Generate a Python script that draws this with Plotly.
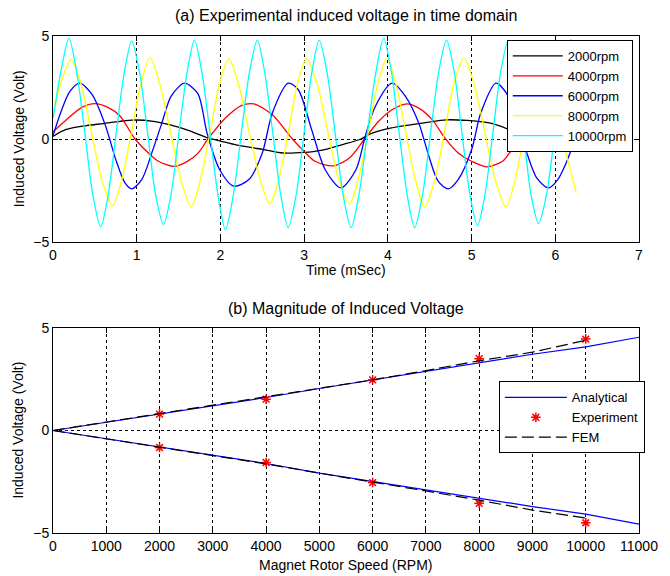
import plotly.graph_objects as go

# ---------------- (a) time-domain waveforms ----------------
t_2000 = [0.0, 0.15, 0.4, 0.6, 0.8, 0.95, 1.2, 1.4, 1.6, 1.85, 2.0, 2.2, 2.5, 2.75, 3.0, 3.2,
          3.45, 3.68, 3.77, 4.0, 4.2, 4.45, 4.7, 4.95, 5.15, 5.25, 5.45, 5.6, 5.8, 6.0, 6.2]
v_2000 = [0.12, 0.45, 0.65, 0.75, 0.86, 0.92, 0.86, 0.68, 0.44, 0.05, -0.1, -0.3, -0.5, -0.68,
          -0.65, -0.55, -0.28, 0.0, 0.21, 0.5, 0.65, 0.8, 0.93, 0.9, 0.82, 0.75, 0.45, 0.1, -0.2,
          -0.4, -0.5]

t_4000 = [0.0, 0.16, 0.35, 0.5, 0.65, 0.8, 0.98, 1.14, 1.26, 1.45, 1.6, 1.73, 1.86, 2.06, 2.25,
          2.4, 2.62, 2.86, 3.0, 3.13, 3.35, 3.54, 3.73, 3.89, 4.05, 4.23, 4.37, 4.53, 4.68, 4.84,
          5.0, 5.18, 5.37, 5.48, 5.6, 5.8, 6.0, 6.15, 6.25]
v_4000 = [0.35, 0.94, 1.55, 1.72, 1.55, 1.12, 0.0, -0.68, -1.08, -1.33, -1.1, -0.7, 0.05, 1.02,
          1.62, 1.7, 1.18, 0.0, -0.6, -1.08, -1.3, -0.92, 0.05, 0.86, 1.42, 1.71, 1.5, 0.94, 0.05,
          -0.68, -1.08, -1.35, -1.08, -0.52, 0.05, 0.9, 1.5, 1.7, 1.65]

t_6000 = [0.0, 0.09, 0.2, 0.32, 0.47, 0.63, 0.75, 0.86, 0.94, 1.06, 1.18, 1.3, 1.41, 1.57, 1.73,
          1.84, 1.99, 2.16, 2.34, 2.5, 2.62, 2.81, 2.93, 3.09, 3.25, 3.44, 3.62, 3.73, 3.85, 4.05,
          4.21, 4.37, 4.49, 4.6, 4.72, 4.84, 5.0, 5.11, 5.29, 5.42, 5.55, 5.64, 5.78, 5.92, 6.03,
          6.13, 6.2, 6.23]
v_6000 = [0.15, 1.26, 2.3, 2.71, 2.14, 0.61, -1.0, -2.13, -2.42, -1.97, -0.68, 0.77, 2.07, 2.71,
          2.2, 0.3, -1.48, -2.29, -1.97, -0.68, 1.26, 2.71, 2.39, 0.45, -1.48, -2.37, -1.48, 0.13,
          1.58, 2.71, 2.07, 0.77, -0.84, -2.05, -2.42, -1.97, -0.52, 1.26, 2.71, 2.2, 0.7, -0.43,
          -1.9, -2.37, -1.97, -1.16, -0.43, -0.2]

t_8000 = [0.0, 0.1, 0.217, 0.34, 0.46, 0.585, 0.71, 0.82, 0.935, 1.05, 1.16, 1.28, 1.405, 1.53,
          1.65, 1.76, 1.875, 1.99, 2.1, 2.22, 2.345, 2.47, 2.59, 2.7, 2.81, 2.92, 3.03, 3.16,
          3.285, 3.41, 3.54, 3.65, 3.765, 3.88, 3.99, 4.1, 4.215, 4.33, 4.44, 4.56, 4.675, 4.79,
          4.91, 5.035, 5.16, 5.285, 5.41, 5.52, 5.63, 5.74, 5.85, 5.97, 6.09, 6.18, 6.25]
v_8000 = [1.1, 2.8, 3.85, 2.6, 0.3, -2.0, -3.25, -2.0, 0.3, 2.7, 3.95, 2.6, 0.3, -2.0, -3.3,
          -2.0, 0.3, 2.7, 3.9, 2.6, 0.3, -1.9, -3.15, -1.9, 0.3, 2.7, 3.9, 2.6, 0.3, -1.9, -3.15,
          -1.9, 0.3, 2.7, 3.9, 2.6, 0.3, -2.0, -3.3, -2.0, 0.3, 2.7, 3.95, 2.6, 0.3, -2.0, -3.3,
          -2.0, 0.3, 2.7, 3.9, 2.6, 0.0, -1.5, -2.6]

t_10000 = [0.0, 0.1, 0.19, 0.285, 0.38, 0.475, 0.57, 0.66, 0.755, 0.85, 0.94, 1.035, 1.13, 1.225,
           1.32, 1.41, 1.505, 1.6, 1.69, 1.78, 1.875, 1.97, 2.06, 2.155, 2.25, 2.345, 2.44, 2.53,
           2.625, 2.72, 2.81, 2.905, 3.0, 3.09, 3.18, 3.275, 3.37, 3.465, 3.56, 3.655, 3.755,
           3.855, 3.95, 4.045, 4.135, 4.23, 4.32, 4.415, 4.51, 4.605, 4.7, 4.795, 4.885, 4.98,
           5.07, 5.16, 5.255, 5.345, 5.44, 5.53, 5.62, 5.71, 5.8, 5.895, 5.995, 6.09, 6.19]
v_10000 = [1.0, 3.4, 4.9, 3.2, 0.3, -2.7, -4.25, -2.7, 0.3, 3.2, 4.75, 3.2, 0.3, -2.7, -4.15,
           -2.7, 0.3, 3.2, 4.8, 3.2, 0.3, -2.7, -4.4, -2.7, 0.3, 3.2, 4.8, 3.2, 0.3, -2.7, -4.3,
           -2.7, 0.3, 3.2, 4.8, 3.2, 0.3, -2.7, -4.3, -2.7, 0.3, 3.2, 4.9, 3.2, 0.3, -2.7, -4.3,
           -2.7, 0.3, 3.2, 4.8, 3.2, 0.3, -2.7, -4.2, -2.7, 0.3, 3.2, 4.8, 3.2, 0.3, -2.7, -4.1,
           -2.7, 0.3, 3.2, 4.85]

wave_names = ["2000rpm", "4000rpm", "6000rpm", "8000rpm", "10000rpm"]
wave_colors = ["#000000", "#ff0000", "#0000ff", "#ffff00", "#00ffff"]

# ---------------- (b) magnitude vs speed ----------------
rpm_analytical = [0, 1000, 2000, 3000, 4000, 5000, 6000, 7000, 8000, 9000, 10000, 11000]
analytical_upper = [0.0, 0.4, 0.8, 1.2, 1.61, 2.05, 2.47, 2.9, 3.3, 3.72, 4.08, 4.55]
analytical_lower = [0.0, -0.4, -0.8, -1.2, -1.61, -2.08, -2.49, -2.9, -3.3, -3.71, -4.08, -4.57]

rpm_fem = [0, 1000, 2000, 3000, 4000, 5000, 6000, 7000, 8000, 9000, 10000]
fem_upper = [0.0, 0.41, 0.82, 1.22, 1.62, 2.05, 2.47, 2.92, 3.4, 3.82, 4.4]
fem_lower = [0.0, -0.41, -0.82, -1.22, -1.63, -2.08, -2.5, -2.95, -3.4, -3.88, -4.27]

rpm_exp = [2000, 4000, 6000, 8000, 10000]
exp_upper = [0.8, 1.53, 2.47, 3.5, 4.46]
exp_lower = [-0.83, -1.56, -2.54, -3.55, -4.5]

time_ticks = [0, 1, 2, 3, 4, 5, 6, 7]
rpm_ticks = [0, 1000, 2000, 3000, 4000, 5000, 6000, 7000, 8000, 9000, 10000, 11000]
rpm_tick_labels = ["0", "1000", "2000", "3000", "4000", "5000", "6000", "7000", "8000",
                   "9000", "10000", "11000"]
volt_ticks = [-5, 0, 5]

FONT = "Arial, Liberation Sans, sans-serif"

fig = go.Figure()

wave_t = [t_2000, t_4000, t_6000, t_8000, t_10000]
wave_v = [v_2000, v_4000, v_6000, v_8000, v_10000]
for name, col, tt, vv in zip(wave_names, wave_colors, wave_t, wave_v):
    fig.add_trace(go.Scatter(x=tt, y=vv, mode="lines", name=name,
                             line=dict(color=col, width=1.3, shape="spline", smoothing=0.8),
                             xaxis="x", yaxis="y", legend="legend"))

fig.add_trace(go.Scatter(x=rpm_analytical + [None] + rpm_analytical,
                         y=analytical_upper + [None] + analytical_lower,
                         mode="lines", name="Analytical",
                         line=dict(color="#0000ff", width=1.2),
                         xaxis="x2", yaxis="y2", legend="legend2"))
fig.add_trace(go.Scatter(x=rpm_exp + rpm_exp, y=exp_upper + exp_lower,
                         mode="markers", name="Experiment",
                         marker=dict(symbol="asterisk-open", size=8, color="#ff0000",
                                     line=dict(color="#ff0000", width=1.5)),
                         xaxis="x2", yaxis="y2", legend="legend2"))
fig.add_trace(go.Scatter(x=rpm_fem + [None] + rpm_fem,
                         y=fem_upper + [None] + fem_lower,
                         mode="lines", name="FEM",
                         line=dict(color="#000000", width=1.2, dash="12px,5px"),
                         xaxis="x2", yaxis="y2", legend="legend2"))

axis_common = dict(showline=True, linecolor="black", linewidth=1, mirror="ticks",
                   ticks="inside", ticklen=5, tickcolor="black",
                   showgrid=True, gridcolor="black", gridwidth=1, griddash="3px,3px",
                   zeroline=False, tickfont=dict(family=FONT, size=14, color="black"))

# the page adds an 8px body margin; the figure is sized/margined so the plot
# areas land where they are in the reference window
fig.update_layout(
    width=662, height=568,
    margin=dict(l=45, r=23, t=28, b=43),
    paper_bgcolor="white", plot_bgcolor="white",
    font=dict(family=FONT, size=14, color="black"),
    xaxis=dict(axis_common, domain=[0, 1], range=[0, 7], tickvals=time_ticks, anchor="y"),
    yaxis=dict(axis_common, domain=[0.5855, 1], range=[-5, 5], tickvals=volt_ticks, anchor="x"),
    xaxis2=dict(axis_common, domain=[0, 1], range=[0, 11000], tickvals=rpm_ticks,
                ticktext=rpm_tick_labels, anchor="y2"),
    yaxis2=dict(axis_common, domain=[0, 0.4125], range=[-5, 5], tickvals=volt_ticks, anchor="x2"),
    legend=dict(x=0.9894, y=0.992, xanchor="right", yanchor="top", bgcolor="white",
                bordercolor="black", borderwidth=1, itemwidth=50,
                font=dict(family=FONT, size=13)),
    legend2=dict(x=1.01, y=0.305, xanchor="right", yanchor="top", bgcolor="white",
                 bordercolor="black", borderwidth=1, itemwidth=62,
                 font=dict(family=FONT, size=13)),
    showlegend=True,
)

annotations = [
    dict(text="(a) Experimental induced voltage in time domain", x=0.5, y=1.042,
         xref="paper", yref="paper", showarrow=False, font=dict(family=FONT, size=16),
         xanchor="center", yanchor="middle"),
    dict(text="(b) Magnitude of Induced Voltage", x=0.5, y=0.4527,
         xref="paper", yref="paper", showarrow=False, font=dict(family=FONT, size=16),
         xanchor="center", yanchor="middle"),
    dict(text="Time (mSec)", x=0.5, y=0.529, xref="paper", yref="paper", showarrow=False,
         font=dict(family=FONT, size=14), xanchor="center", yanchor="middle"),
    dict(text="Magnet Rotor Speed (RPM)", x=0.5, y=-0.064, xref="paper", yref="paper",
         showarrow=False, font=dict(family=FONT, size=14), xanchor="center", yanchor="middle"),
    dict(text="Induced Voltage (Volt)", x=-0.0589, y=0.793, xref="paper", yref="paper",
         showarrow=False, textangle=-90, font=dict(family=FONT, size=14),
         xanchor="center", yanchor="middle"),
    dict(text="Induced Voltage (Volt)", x=-0.0589, y=0.207, xref="paper", yref="paper",
         showarrow=False, textangle=-90, font=dict(family=FONT, size=14),
         xanchor="center", yanchor="middle"),
]
fig.update_layout(annotations=annotations)

fig.write_html("out.html")
